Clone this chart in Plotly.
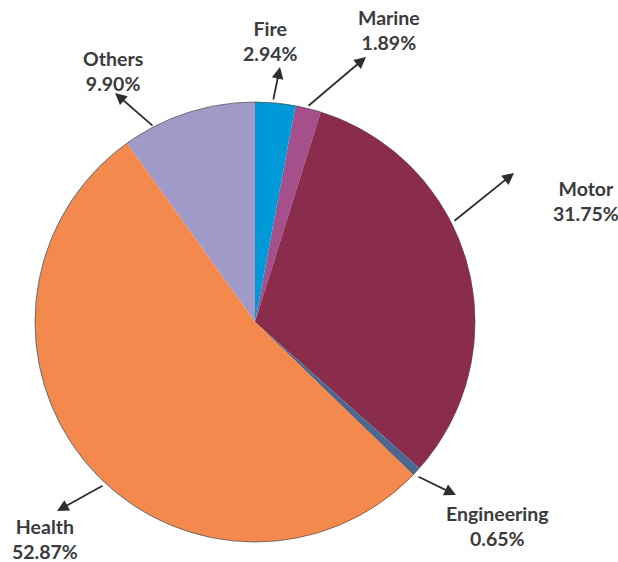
import plotly.graph_objects as go

# Gross premium share by line of business
segments = ["Fire", "Marine", "Motor", "Engineering", "Health", "Others"]
shares = [2.94, 1.89, 31.75, 0.65, 52.87, 9.90]
colors = ["#0099D8", "#A5508B", "#8A2C4B", "#4E6790", "#F4894E", "#A09AC9"]

W, H = 618, 562

# Label anchor points (pixels), anchor side, and arrow (tail -> head)
label_pos = {
    "Fire": (270, 41, "center"),
    "Marine": (389, 30, "center"),
    "Motor": (621, 201, "right"),
    "Engineering": (497, 526, "center"),
    "Health": (45, 539, "center"),
    "Others": (113, 71, "center"),
}
arrows = {
    "Fire": ((273, 101), (280, 67)),
    "Marine": ((307, 107), (366, 57)),
    "Motor": ((453, 222), (514, 173)),
    "Engineering": ((417, 476), (456, 495)),
    "Health": ((104, 485), (57, 511)),
    "Others": ((154, 127), (115, 93)),
}

fig = go.Figure(
    go.Pie(
        labels=segments,
        values=shares,
        marker=dict(colors=colors, line=dict(width=0)),
        sort=False,
        direction="clockwise",
        rotation=0,
        textinfo="none",
        hoverinfo="label+percent",
        domain=dict(x=[35 / W, 475 / W], y=[20 / H, 460 / H]),
    )
)

font = dict(family="Lato, 'Open Sans', sans-serif", size=19.5, color="#3B3A3C")
annotations = []
for name, val in zip(segments, shares):
    lx, ly, anchor = label_pos[name]
    annotations.append(
        dict(
            x=lx / W, y=1 - ly / H, xref="paper", yref="paper",
            text=f"<b>{name}<br>{val:.2f}%</b>",
            showarrow=False, font=font, align="center",
            xanchor=anchor, yanchor="middle",
        )
    )
    (tx, ty), (hx, hy) = arrows[name]
    annotations.append(
        dict(
            x=hx / W, y=1 - hy / H, xref="paper", yref="paper",
            ax=tx - hx, ay=ty - hy, axref="pixel", ayref="pixel",
            text="", showarrow=True, arrowhead=2, arrowsize=1.3,
            arrowwidth=1.8, arrowcolor="#2E2D30", standoff=0,
        )
    )

# thin rim around the pie
fig.add_shape(
    type="circle", xref="paper", yref="paper",
    x0=35 / W, x1=475 / W, y0=20 / H, y1=460 / H,
    line=dict(color="#4A4A4A", width=0.7), layer="above",
)

fig.update_layout(
    width=W, height=H,
    margin=dict(l=0, r=0, t=0, b=0),
    paper_bgcolor="white", plot_bgcolor="white",
    showlegend=False,
    annotations=annotations,
)

fig.write_html("out.html")
